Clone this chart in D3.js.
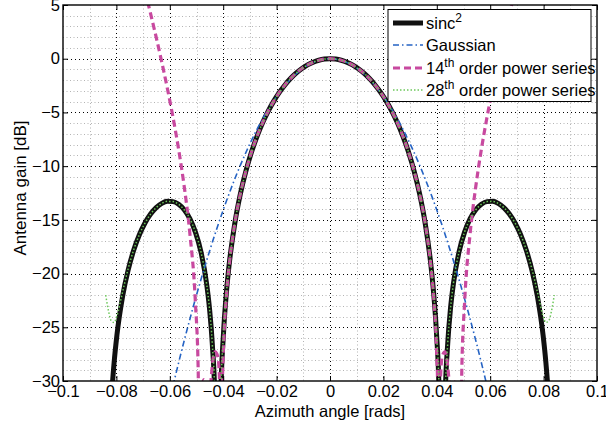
<!DOCTYPE html>
<html><head><meta charset="utf-8">
<script src="https://cdn.jsdelivr.net/npm/d3@7"></script>
<style>
html,body{margin:0;padding:0;background:#fff;}
svg{display:block;font-family:"Liberation Sans",Arial,Helvetica,sans-serif;}
</style></head><body>
<svg id="chart" width="606" height="425"></svg>
<script>
// ---------- tick labels ----------
const xTicks = [-0.1,-0.08,-0.06,-0.04,-0.02,0,0.02,0.04,0.06,0.08,0.1];
const xTickLabels = ["\u22120.1","\u22120.08","\u22120.06","\u22120.04","\u22120.02","0","0.02","0.04","0.06","0.08","0.1"];
const yTicks = [5,0,-5,-10,-15,-20,-25,-30];
const yTickLabels = ["5","0","\u22125","\u221210","\u221215","\u221220","\u221225","\u221230"];

// ---------- series ----------
const sincAngles = [-0.084,-0.08295,-0.0819,-0.08085,-0.0798,-0.0777,-0.0756,-0.0735,-0.0714,-0.0693,-0.0672,-0.0651,-0.063,-0.0609,-0.0588,-0.0567,-0.0546,-0.0525,-0.0504,-0.0483,-0.0462,-0.04515,-0.0441,-0.04305,-0.042,-0.04095,-0.0399,-0.03885,-0.0378,-0.0357,-0.0336,-0.0315,-0.0294,-0.0273,-0.0252,-0.0231,-0.021,-0.0189,-0.0168,-0.0147,-0.0126,-0.0105,-0.0084,-0.0063,-0.0042,-0.0021,0,0.0021,0.0042,0.0063,0.0084,0.0105,0.0126,0.0147,0.0168,0.0189,0.021,0.0231,0.0252,0.0273,0.0294,0.0315,0.0336,0.0357,0.0378,0.03885,0.0399,0.04095,0.042,0.04305,0.0441,0.04515,0.0462,0.0483,0.0504,0.0525,0.0546,0.0567,0.0588,0.0609,0.063,0.0651,0.0672,0.0693,0.0714,0.0735,0.0756,0.0777,0.0798,0.08085,0.0819,0.08295,0.084];
const sincDb = [-60,-37.96,-31.86,-28.268,-25.718,-22.145,-19.664,-17.814,-16.393,-15.295,-14.461,-13.857,-13.465,-13.278,-13.302,-13.552,-14.063,-14.892,-16.142,-18.016,-20.971,-23.208,-26.48,-32.26,-60,-31.83,-25.611,-21.902,-19.228,-15.391,-12.62,-10.455,-8.686,-7.204,-5.942,-4.858,-3.922,-3.115,-2.42,-1.827,-1.326,-0.912,-0.579,-0.324,-0.143,-0.036,0,-0.036,-0.143,-0.324,-0.579,-0.912,-1.326,-1.827,-2.42,-3.115,-3.922,-4.858,-5.942,-7.204,-8.686,-10.455,-12.62,-15.391,-19.228,-21.902,-25.611,-31.83,-60,-32.26,-26.48,-23.208,-20.971,-18.016,-16.142,-14.892,-14.063,-13.552,-13.302,-13.278,-13.465,-13.857,-14.461,-15.295,-16.393,-17.814,-19.664,-22.145,-25.718,-28.268,-31.86,-37.96,-60];
const series28Db = [-22.01,-23.48,-24.42,-24.55,-23.93,-21.73,-19.555,-17.783,-16.383,-15.295,-14.461,-13.857,-13.465,-13.278,-13.302,-13.552,-14.063,-14.892,-16.142,-18.016,-20.971,-23.208,-26.48,-32.26,-60,-31.83,-25.611,-21.902,-19.228,-15.391,-12.62,-10.455,-8.686,-7.204,-5.942,-4.858,-3.922,-3.115,-2.42,-1.827,-1.326,-0.912,-0.579,-0.324,-0.143,-0.036,0,-0.036,-0.143,-0.324,-0.579,-0.912,-1.326,-1.827,-2.42,-3.115,-3.922,-4.858,-5.942,-7.204,-8.686,-10.455,-12.62,-15.391,-19.228,-21.902,-25.611,-31.83,-60,-32.26,-26.48,-23.208,-20.971,-18.016,-16.142,-14.892,-14.063,-13.552,-13.302,-13.278,-13.465,-13.857,-14.461,-15.295,-16.383,-17.783,-19.555,-21.73,-23.93,-24.55,-24.42,-23.48,-22.01];

const series14Angles = [-0.0693,-0.0672,-0.0651,-0.063,-0.0609,-0.0588,-0.0567,-0.0546,-0.0525,-0.0504,-0.04935,-0.04883,-0.0483,-0.04725,-0.0462,-0.04565,-0.04515,-0.0441,-0.04305,-0.042,-0.04095,-0.04061,-0.04032,-0.0399,-0.03885,-0.0378,-0.0357,-0.0336,-0.0315,-0.0294,-0.0273,-0.0252,-0.0231,-0.021,-0.0189,-0.0168,-0.0147,-0.0126,-0.0105,-0.0084,-0.0063,-0.0042,-0.0021,0,0.0021,0.0042,0.0063,0.0084,0.0105,0.0126,0.0147,0.0168,0.0189,0.021,0.0231,0.0252,0.0273,0.0294,0.0315,0.0336,0.0357,0.0378,0.03885,0.0399,0.04032,0.04061,0.04095,0.042,0.04305,0.0441,0.04515,0.04565,0.0462,0.04725,0.0483,0.04883,0.04935,0.0504,0.0525,0.0546,0.0567,0.0588,0.0609,0.063,0.0651,0.0672,0.0693];
const series14Db = [6.3,4.19,2.0,-0.32,-2.78,-5.45,-8.43,-11.9,-16.23,-22.76,-29.18,-60,-31.8,-29.87,-33.2,-60,-33.5,-28.65,-27.29,-27.74,-33.4,-60,-30.7,-26.97,-22.24,-19.34,-15.39,-12.62,-10.455,-8.686,-7.204,-5.942,-4.858,-3.922,-3.115,-2.42,-1.827,-1.326,-0.912,-0.579,-0.324,-0.143,-0.036,0,-0.036,-0.143,-0.324,-0.579,-0.912,-1.326,-1.827,-2.42,-3.115,-3.922,-4.858,-5.942,-7.204,-8.686,-10.455,-12.62,-15.39,-19.34,-22.24,-26.97,-30.7,-60,-33.4,-27.74,-27.29,-28.65,-33.5,-60,-33.2,-29.87,-31.8,-60,-29.18,-22.76,-16.23,-11.9,-8.43,-5.45,-2.78,-0.32,2.0,4.19,6.3];

const gaussAngles = [-0.06,-0.055,-0.05,-0.045,-0.04,-0.035,-0.03,-0.025,-0.02,-0.015,-0.01,-0.005,0,0.005,0.01,0.015,0.02,0.025,0.03,0.035,0.04,0.045,0.05,0.055,0.06];
const gaussDb = [-31.68,-26.62,-22.0,-17.82,-14.08,-10.78,-7.92,-5.5,-3.52,-1.98,-0.88,-0.22,0,-0.22,-0.88,-1.98,-3.52,-5.5,-7.92,-10.78,-14.08,-17.82,-22.0,-26.62,-31.68];

const legendLabels = ["sinc", "Gaussian", "14", "28"];

// ---------- layout ----------
const svg = d3.select("#chart");
const L = 63, R = 597, T = 5, B = 381;
const x = d3.scaleLinear().domain([-0.1, 0.1]).range([L, R]);
const y = d3.scaleLinear().domain([-30, 5]).range([B, T]);
const font = '"Liberation Sans",Arial,Helvetica,sans-serif';

svg.append("rect").attr("width",606).attr("height",425).attr("fill","#fff");
svg.append("rect").attr("x",L).attr("y",T).attr("width",R-L).attr("height",B-T).attr("fill","#fff");

// minor grid
const xMinor = d3.range(-0.09, 0.1, 0.02);
const yMinor = d3.range(4, -30, -1).filter(v => v % 5 !== 0);
const gMinor = svg.append("g").attr("stroke","#b4b4b4").attr("stroke-width",1).attr("stroke-dasharray","1,2.5");
gMinor.selectAll("line.vx").data(xMinor).join("line")
  .attr("x1", d => Math.round(x(d))+0.5).attr("x2", d => Math.round(x(d))+0.5).attr("y1",T).attr("y2",B);
gMinor.selectAll("line.hy").data(yMinor).join("line")
  .attr("y1", d => Math.round(y(d))+0.5).attr("y2", d => Math.round(y(d))+0.5).attr("x1",L).attr("x2",R);

// major grid
const gMajor = svg.append("g").attr("stroke","#000").attr("stroke-width",1).attr("stroke-dasharray","1,3");
gMajor.selectAll("line.vx").data(xTicks.slice(1,-1)).join("line")
  .attr("x1", d => Math.round(x(d))+0.5).attr("x2", d => Math.round(x(d))+0.5).attr("y1",T).attr("y2",B);
gMajor.selectAll("line.hy").data(yTicks.slice(1,-1)).join("line")
  .attr("y1", d => Math.round(y(d))+0.5).attr("y2", d => Math.round(y(d))+0.5).attr("x1",L).attr("x2",R);

// clip
svg.append("clipPath").attr("id","plotclip").append("rect")
  .attr("x",L).attr("y",T).attr("width",R-L).attr("height",B-T);
const plot = svg.append("g").attr("clip-path","url(#plotclip)");

const lineGen = d3.line().x(d => x(d[0])).y(d => y(d[1])).curve(d3.curveMonotoneX);
const gaussGen = d3.line().x(d => x(d[0])).y(d => y(d[1])).curve(d3.curveCatmullRom);

const styles = {
  sinc: {stroke:"#111", width:5, dash:null},
  gauss: {stroke:"#2563c4", width:1.6, dash:"6,3,1.5,3"},
  p14: {stroke:"#c8499f", width:3.2, dash:"7,4"},
  p28: {stroke:"#6cc85a", width:1.5, dash:"1.5,2"}
};

plot.append("path").datum(d3.zip(sincAngles, sincDb)).attr("d", lineGen)
  .attr("fill","none").attr("stroke",styles.sinc.stroke).attr("stroke-width",styles.sinc.width).attr("stroke-linejoin","round");
plot.append("path").datum(d3.zip(gaussAngles, gaussDb)).attr("d", gaussGen)
  .attr("fill","none").attr("stroke",styles.gauss.stroke).attr("stroke-width",styles.gauss.width).attr("stroke-dasharray",styles.gauss.dash);
plot.append("path").datum(d3.zip(series14Angles, series14Db)).attr("d", lineGen)
  .attr("fill","none").attr("stroke",styles.p14.stroke).attr("stroke-width",styles.p14.width).attr("stroke-dasharray",styles.p14.dash);
plot.append("path").datum(d3.zip(sincAngles, series28Db)).attr("d", lineGen)
  .attr("fill","none").attr("stroke",styles.p28.stroke).attr("stroke-width",styles.p28.width).attr("stroke-dasharray",styles.p28.dash);

// axes
const fmtX = d => xTickLabels[xTicks.indexOf(d)];
const fmtY = d => yTickLabels[yTicks.indexOf(d)];
function styleAxis(g){
  g.select(".domain").remove();
  g.selectAll(".tick line").attr("stroke","#000").attr("stroke-width",1);
  g.selectAll("text").attr("font-family",font).attr("font-size",16.5).attr("fill","#000");
}
svg.append("g").attr("transform",`translate(0,${B})`)
  .call(d3.axisBottom(x).tickValues(xTicks).tickFormat(fmtX).tickSize(-5).tickPadding(4)).call(styleAxis);
svg.append("g").attr("transform",`translate(0,${T})`)
  .call(d3.axisTop(x).tickValues(xTicks).tickFormat("").tickSize(-5)).call(styleAxis);
svg.append("g").attr("transform",`translate(${L},0)`)
  .call(d3.axisLeft(y).tickValues(yTicks).tickFormat(fmtY).tickSize(-5).tickPadding(3)).call(styleAxis);
svg.append("g").attr("transform",`translate(${R},0)`)
  .call(d3.axisRight(y).tickValues(yTicks).tickFormat("").tickSize(-5)).call(styleAxis);

// box
svg.append("rect").attr("x",L).attr("y",T).attr("width",R-L).attr("height",B-T)
  .attr("fill","none").attr("stroke","#000").attr("stroke-width",1.4);

// axis labels
svg.append("text").attr("x",(L+R)/2).attr("y",417).attr("text-anchor","middle")
  .attr("font-family",font).attr("font-size",16.5).text("Azimuth angle [rads]");
svg.append("text").attr("transform","translate(26,188) rotate(-90)").attr("text-anchor","middle")
  .attr("font-family",font).attr("font-size",17).text("Antenna gain [dB]");

// legend
const lg = svg.append("g");
lg.append("rect").attr("x",388).attr("y",9.5).attr("width",203).attr("height",92)
  .attr("fill","#fff").attr("stroke","#000").attr("stroke-width",1);
const rows = [
  {key:"sinc", y:23},
  {key:"gauss", y:45},
  {key:"p14", y:68},
  {key:"p28", y:90}
];
rows.forEach((r,i) => {
  const s = styles[r.key];
  lg.append("line").attr("x1",393).attr("x2",423).attr("y1",r.y).attr("y2",r.y)
    .attr("stroke",s.stroke).attr("stroke-width",s.width).attr("stroke-dasharray",s.dash);
  const t = lg.append("text").attr("x",426).attr("y",r.y+6).attr("font-family",font).attr("font-size",16.5);
  if (i === 0) {
    t.append("tspan").text(legendLabels[0]);
    t.append("tspan").attr("dy",-7).attr("font-size",12).text("2");
  } else if (i === 1) {
    t.text(legendLabels[1]);
  } else {
    t.append("tspan").text(legendLabels[i]);
    t.append("tspan").attr("dy",-7).attr("font-size",12).text("th");
    t.append("tspan").attr("dy",7).text(" order power series");
  }
});
</script>
</body></html>
